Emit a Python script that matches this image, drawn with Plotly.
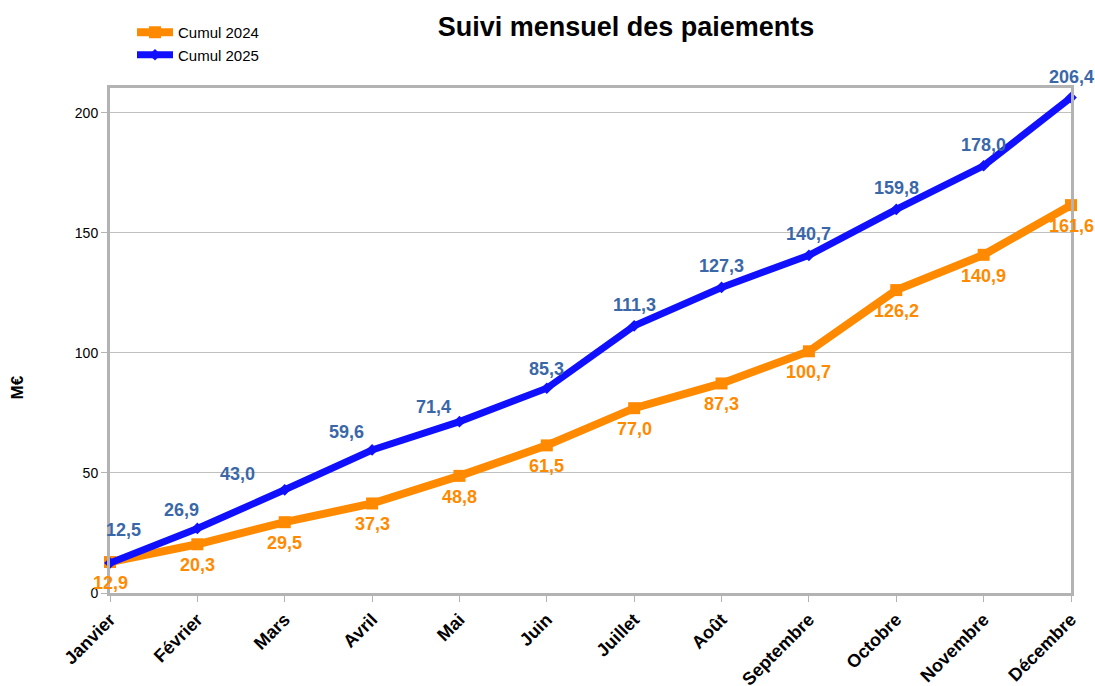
import plotly.graph_objects as go

months = ["Janvier", "Février", "Mars", "Avril", "Mai", "Juin", "Juillet",
          "Août", "Septembre", "Octobre", "Novembre", "Décembre"]
cumul_2024 = [12.9, 20.3, 29.5, 37.3, 48.8, 61.5, 77.0, 87.3, 100.7, 126.2, 140.9, 161.6]
cumul_2025 = [12.5, 26.9, 43.0, 59.6, 71.4, 85.3, 111.3, 127.3, 140.7, 159.8, 178.0, 206.4]

ORANGE = "#ff8a00"
BLUE = "#1010ff"
BLUE_LABEL = "#3a67a8"
FONT = "Liberation Sans, Arial"

W, H = 1095, 686
L, R, T, B = 110, 24, 88, 93
PW, PH = W - L - R, H - T - B

def fmt(v):
    return f"{v:.1f}".replace(".", ",")

fig = go.Figure()
fig.add_trace(go.Scatter(
    x=months, y=cumul_2024, name="Cumul 2024", mode="lines+markers",
    line=dict(color=ORANGE, width=8), marker=dict(symbol="square", size=12, color=ORANGE),
    cliponaxis=False))
fig.add_trace(go.Scatter(
    x=months, y=cumul_2025, name="Cumul 2025", mode="lines+markers",
    line=dict(color=BLUE, width=7), marker=dict(symbol="diamond", size=9, color=BLUE),
    cliponaxis=False))

# label placement offsets (pixels) for the 2025 series
blue_xshift = [13, -16, -47, -26, -26, 0, 0, 0, 0, 0, 0, 0]
blue_yshift = [33, 18, 16, 18, 15, 19, 21, 21, 21, 21, 21, 21]

for i, m in enumerate(months):
    fig.add_annotation(x=m, y=cumul_2024[i], text=fmt(cumul_2024[i]), showarrow=False,
                       yshift=-21, xshift=0,
                       font=dict(family=FONT, size=18, color=ORANGE, weight="bold"))
    fig.add_annotation(x=m, y=cumul_2025[i], text=fmt(cumul_2025[i]), showarrow=False,
                       yshift=blue_yshift[i], xshift=blue_xshift[i],
                       font=dict(family=FONT, size=18, color=BLUE_LABEL, weight="bold"))

fig.add_annotation(xref="paper", yref="paper", x=(5 - L) / PW, y=(H - B - 388) / PH,
                   text="<b>M€</b>", textangle=-90, showarrow=False,
                   font=dict(family=FONT, size=17, color="black"))

fig.update_layout(
    width=W, height=H,
    margin=dict(l=L, r=R, t=T, b=B, autoexpand=False),
    paper_bgcolor="white", plot_bgcolor="white",
    font=dict(family=FONT, color="black"),
    title=dict(text="<b>Suivi mensuel des paiements</b>", xref="container", yref="container",
               x=626 / W, xanchor="center", y=1 - 27 / H, yanchor="middle",
               font=dict(size=27, color="black")),
    legend=dict(x=(132 - L) / PW, y=1 + (T - 16) / PH, xanchor="left", yanchor="top",
                font=dict(size=15), bgcolor="rgba(0,0,0,0)", tracegroupgap=0,
                itemwidth=36),
    showlegend=True,
)
fig.update_xaxes(
    type="category", range=[0, 11], showgrid=False, automargin=False,
    showline=True, linecolor="#b3b3b3", linewidth=3, mirror=True,
    ticks="outside", ticklen=6, tickcolor="#b3b3b3", tickwidth=1,
    tickangle=-45, tickfont=dict(size=18, color="black", weight="bold"))
fig.update_yaxes(
    range=[0, 210.4], tickvals=[0, 50, 100, 150, 200], automargin=False,
    showgrid=True, gridcolor="#c0c0c0", gridwidth=1, zeroline=False,
    showline=True, linecolor="#b3b3b3", linewidth=3, mirror=True,
    ticks="outside", ticklen=6, tickcolor="#b3b3b3", tickwidth=1,
    tickfont=dict(size=14, color="black"))

fig.write_html("out.html", config={"displayModeBar": False},
               post_script="document.body.style.margin='0';document.body.style.overflow='hidden';")
